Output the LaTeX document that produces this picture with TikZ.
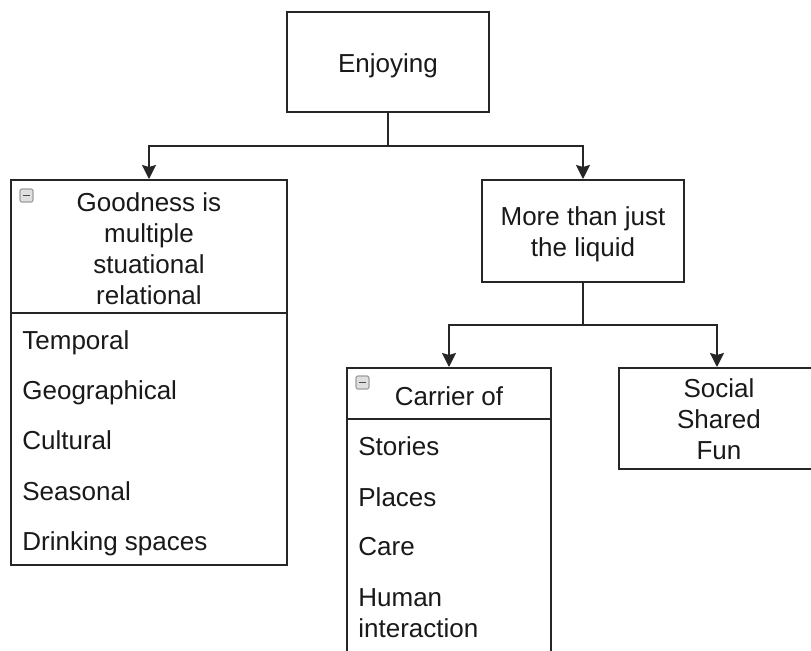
\documentclass[tikz,border=0pt]{standalone}
\usepackage{fontspec}
\setmainfont{Liberation Sans}
\usetikzlibrary{arrows.meta}
\begin{document}
\begin{tikzpicture}[x=0.5pt,y=-0.5pt,
  box/.style={draw=black!85,line width=1pt,rectangle,inner sep=0pt,fill=white},
  txt/.style={font=\fontsize{13}{15.5}\selectfont,align=center,inner sep=0pt,text=black!90},
  item/.style={font=\fontsize{13}{15.5}\selectfont,align=left,inner sep=0pt,anchor=base west,text=black!90},
  conn/.style={draw=black!85,line width=1pt},
  arr/.style={conn,-{Stealth[width=7pt,length=7pt,inset=1pt]}},
  minusicon/.style={draw=gray!75,fill=gray!25,rounded corners=1pt,line width=0.6pt}
]
\useasboundingbox (0,0) rectangle (811,650);
\clip (0,0) rectangle (811,650);
\fill[white] (0,0) rectangle (811,650);

% nodes
\node[box,minimum width=101pt,minimum height=50pt] (enj) at (388,62) {};
\node[txt,anchor=base] (enjt) at (388,72) {Enjoying};

\node[box,minimum width=138pt,minimum height=192.5pt] (good) at (149,372.5) {};
\draw[conn] (11,313) -- (287,313);
\node[txt] (goodt) at (149,249) {Goodness is\\multiple\\stuational\\relational};
\node[item] (i1) at (22,349) {Temporal};
\node[item] (i2) at (22,399) {Geographical};
\node[item] (i3) at (22,449) {Cultural};
\node[item] (i4) at (22,500) {Seasonal};
\node[item] (i5) at (22,550) {Drinking spaces};
\draw[minusicon] (20,189) rectangle (33,202);
\draw[black!70,line width=0.8pt] (23,195.5) -- (30,195.5);

\node[box,minimum width=101pt,minimum height=51pt] (more) at (583,231) {};
\node[txt] (moret) at (583,234) {More than just\\the liquid};

\node[box,minimum width=102pt,minimum height=156pt] (carr) at (449,524) {};
\draw[conn] (347,419) -- (551,419);
\node[txt,anchor=base] (carrt) at (449,405) {Carrier of};
\node[item] (c1) at (358,455) {Stories};
\node[item] (c2) at (358,506) {Places};
\node[item] (c3) at (358,555) {Care};
\node[item,anchor=west] (c4) at (358,613.5) {Human\\interaction};
\draw[minusicon] (356,376) rectangle (369,389);
\draw[black!70,line width=0.8pt] (359,382.5) -- (366,382.5);

\node[box,minimum width=100pt,minimum height=50.5pt] (soc) at (719,418.5) {};
\node[txt] (soct) at (719,419) {Social\\Shared\\Fun};

% connectors
\coordinate (j1) at (388,146);
\coordinate (j2) at (583,325);
\draw[conn] (enj.south) -- (j1);
\draw[arr] (j1) -| (good.north);
\draw[arr] (j1) -| (more.north);
\draw[conn] (more.south) -- (j2);
\draw[arr] (j2) -| (carr.north);
\draw[arr] (j2) -| ([xshift=-1pt]soc.north);
\end{tikzpicture}
\end{document}
